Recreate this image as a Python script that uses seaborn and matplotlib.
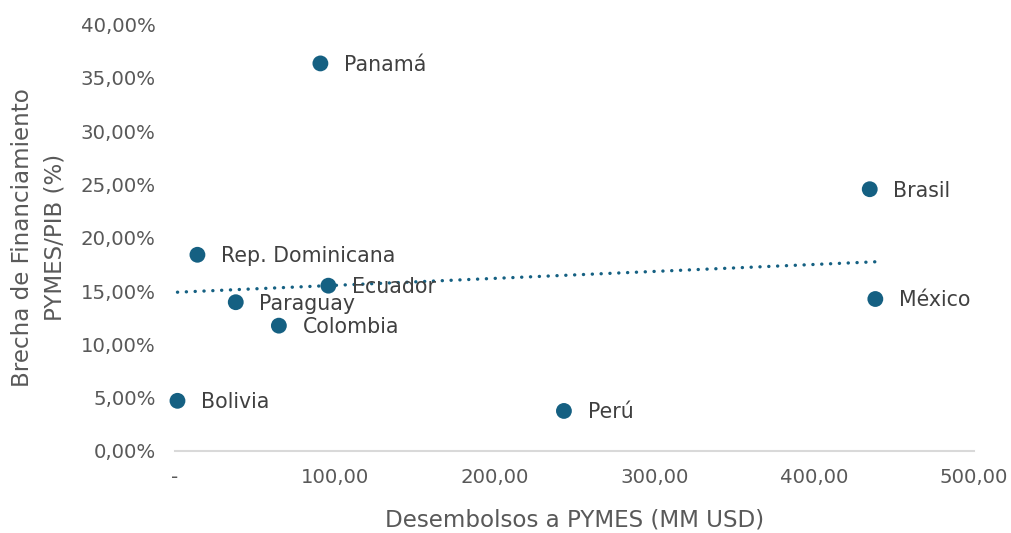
import matplotlib
matplotlib.use("Agg")
import matplotlib.pyplot as plt
from matplotlib.ticker import FuncFormatter
import numpy as np
import pandas as pd
import seaborn as sns

# Desembolsos a PYMES (MM USD) vs brecha de financiamiento (% del PIB)
paises = ["Panamá", "Brasil", "Rep. Dominicana", "Ecuador", "Paraguay",
          "Colombia", "México", "Bolivia", "Perú"]
desembolsos = [91.0, 435.0, 14.0, 96.0, 38.0, 65.0, 438.5, 1.5, 243.5]
brecha = [36.35, 24.55, 18.40, 15.50, 13.95, 11.75, 14.25, 4.70, 3.75]

df = pd.DataFrame({"pais": paises, "desembolsos": desembolsos,
                   "brecha": np.array(brecha) / 100})

sns.set_theme(style="white")
plt.rcParams["font.family"] = ["DejaVu Sans"]

color = "#156082"
gris = "#595959"

fig = plt.figure(figsize=(10.12, 5.33), dpi=100)
ax = fig.add_axes([0.173, 0.154, 0.789, 0.800])

# tendencia lineal (punteada) sobre el rango de los datos
sns.regplot(data=df, x="desembolsos", y="brecha", ax=ax, scatter=False,
            ci=None, truncate=True, color=color,
            line_kws=dict(linestyle=(0, (0.05, 2.6)), linewidth=2.4,
                          dash_capstyle="round"))

sns.scatterplot(data=df, x="desembolsos", y="brecha", ax=ax, color=color,
                s=130, edgecolor="none", zorder=3, clip_on=False)

for p, xv, yv in zip(df["pais"], df["desembolsos"], df["brecha"]):
    ax.annotate(p, (xv, yv), xytext=(17, -1), textcoords="offset points",
                ha="left", va="center", fontsize=14.8, color="#404040")

ax.set_xlim(0, 500)
ax.set_ylim(0, 0.40)
ax.set_xticks([0, 100, 200, 300, 400, 500])
ax.set_yticks(np.arange(0, 0.401, 0.05))


def fmt_x(v, pos):
    if abs(v) < 1e-9:
        return "-"
    return f"{v:,.2f}".replace(",", "X").replace(".", ",").replace("X", ".")


def fmt_y(v, pos):
    return f"{v * 100:.2f}%".replace(".", ",")


ax.xaxis.set_major_formatter(FuncFormatter(fmt_x))
ax.yaxis.set_major_formatter(FuncFormatter(fmt_y))
ax.tick_params(axis="both", length=0, labelsize=14.2, labelcolor=gris)
ax.tick_params(axis="x", pad=12)
ax.tick_params(axis="y", pad=14)

for s in ["top", "right", "left"]:
    ax.spines[s].set_visible(False)
ax.spines["bottom"].set_color("#D9D9D9")
ax.spines["bottom"].set_linewidth(1.5)

ax.set_xlabel("Desembolsos a PYMES (MM USD)", fontsize=16.6, color=gris,
              labelpad=16)
ax.set_ylabel("Brecha de Financiamiento\nPYMES/PIB (%)", fontsize=16.6,
              color=gris, labelpad=10, linespacing=1.55)
ax.grid(False)

fig.savefig("out.png", dpi=100)
